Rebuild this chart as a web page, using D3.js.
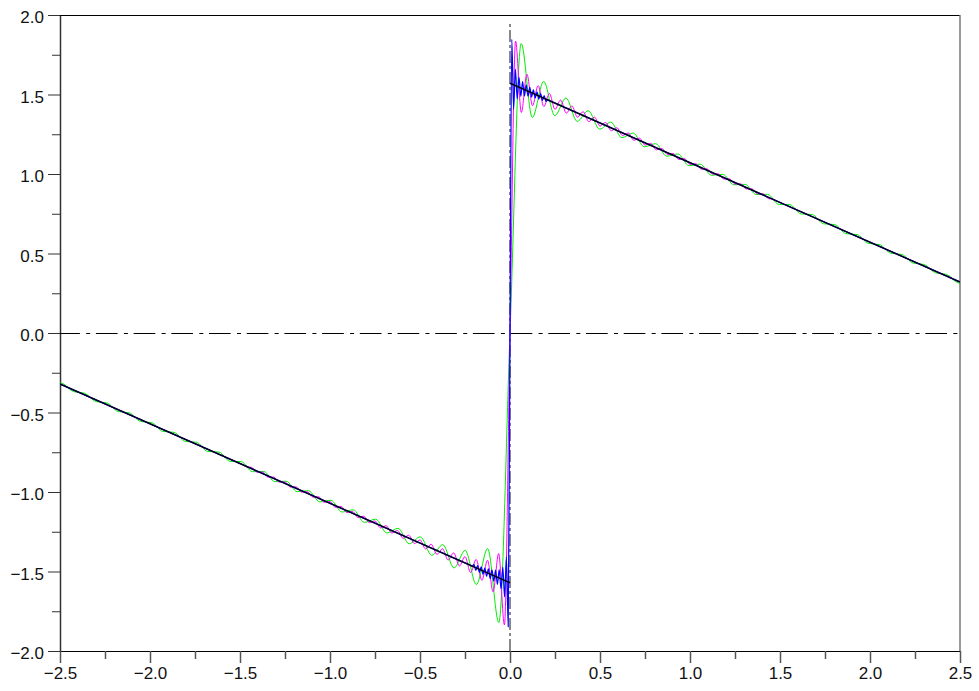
<!DOCTYPE html>
<html>
<head>
<meta charset="utf-8">
<script src="https://cdn.jsdelivr.net/npm/d3@7"></script>
<style>
  body { margin: 0; background: #fff; }
  svg { display: block; font-family: "Liberation Sans", Arial, sans-serif; }
</style>
</head>
<body>
<svg id="chart" width="979" height="691"></svg>
<script>
// tick positions
var xMajor = [-2.5, -2.0, -1.5, -1.0, -0.5, 0.0, 0.5, 1.0, 1.5, 2.0, 2.5];
var xMinor = [-2.25, -1.75, -1.25, -0.75, -0.25, 0.25, 0.75, 1.25, 1.75, 2.25];
var yMajor = [-2.0, -1.5, -1.0, -0.5, 0.0, 0.5, 1.0, 1.5, 2.0];
var yMinor = [-1.75, -1.25, -0.75, -0.25, 0.25, 0.75, 1.25, 1.75];

// green curve (fewest terms) at its peaks and troughs
var green = [
  [-2.5,-0.313],[-2.488,-0.316],[-2.426,-0.368],[-2.363,-0.379],[-2.301,-0.431],[-2.239,-0.440],
  [-2.177,-0.494],[-2.115,-0.502],[-2.053,-0.556],[-1.990,-0.564],[-1.928,-0.619],[-1.866,-0.625],
  [-1.804,-0.682],[-1.742,-0.687],[-1.679,-0.745],[-1.617,-0.749],[-1.555,-0.807],[-1.493,-0.809],
  [-1.431,-0.872],[-1.368,-0.871],[-1.306,-0.935],[-1.244,-0.932],[-1.182,-0.998],[-1.120,-0.992],
  [-1.057,-1.062],[-0.995,-1.052],[-0.933,-1.126],[-0.871,-1.112],[-0.809,-1.191],[-0.746,-1.171],
  [-0.684,-1.258],[-0.622,-1.228],[-0.560,-1.326],[-0.498,-1.282],[-0.435,-1.398],[-0.373,-1.331],
  [-0.311,-1.478],[-0.249,-1.367],[-0.187,-1.582],[-0.124,-1.356],[-0.062,-1.821],
  [0,0],
  [0.062,1.821],[0.124,1.356],[0.187,1.582],[0.249,1.367],[0.311,1.478],[0.373,1.331],
  [0.435,1.398],[0.498,1.282],[0.560,1.326],[0.622,1.228],[0.684,1.258],[0.746,1.171],
  [0.809,1.191],[0.871,1.112],[0.933,1.126],[0.995,1.052],[1.057,1.062],[1.120,0.992],
  [1.182,0.998],[1.244,0.932],[1.306,0.935],[1.368,0.871],[1.431,0.872],[1.493,0.809],
  [1.555,0.807],[1.617,0.749],[1.679,0.745],[1.742,0.687],[1.804,0.682],[1.866,0.625],
  [1.928,0.619],[1.990,0.564],[2.053,0.556],[2.115,0.502],[2.177,0.494],[2.239,0.440],
  [2.301,0.431],[2.363,0.379],[2.426,0.368],[2.488,0.316],[2.5,0.313]
];

// magenta curve (more terms)
var magenta = [
  [-2.5,-0.321],[-1.6,-0.771],[-1.485,-0.828],[-1.454,-0.844],
  [-1.438,-0.844],[-1.407,-0.875],[-1.375,-0.875],[-1.344,-0.907],[-1.313,-0.906],[-1.282,-0.938],
  [-1.250,-0.937],[-1.219,-0.970],[-1.188,-0.968],[-1.157,-1.001],[-1.125,-0.999],[-1.094,-1.033],
  [-1.063,-1.030],[-1.032,-1.065],
  [-1.000,-1.060],[-0.969,-1.097],[-0.938,-1.091],[-0.907,-1.129],[-0.875,-1.122],[-0.844,-1.161],
  [-0.813,-1.152],[-0.782,-1.193],[-0.750,-1.182],[-0.719,-1.226],[-0.688,-1.212],[-0.657,-1.258],
  [-0.625,-1.242],[-0.594,-1.291],[-0.563,-1.272],[-0.531,-1.324],[-0.500,-1.301],[-0.469,-1.358],
  [-0.438,-1.329],[-0.406,-1.392],[-0.375,-1.357],[-0.344,-1.428],[-0.313,-1.383],[-0.281,-1.465],
  [-0.250,-1.406],[-0.219,-1.506],[-0.188,-1.424],[-0.156,-1.556],[-0.125,-1.429],[-0.094,-1.628],
  [-0.063,-1.387],[-0.031,-1.836],
  [0,0],
  [0.031,1.836],[0.063,1.387],[0.094,1.628],[0.125,1.429],[0.156,1.556],[0.188,1.424],
  [0.219,1.506],[0.250,1.406],[0.281,1.465],[0.313,1.383],[0.344,1.428],[0.375,1.357],
  [0.406,1.392],[0.438,1.329],[0.469,1.358],[0.500,1.301],[0.531,1.324],[0.563,1.272],
  [0.594,1.291],[0.625,1.242],[0.657,1.258],[0.688,1.212],[0.719,1.226],[0.750,1.182],
  [0.782,1.193],[0.813,1.152],[0.844,1.161],[0.875,1.122],[0.907,1.129],[0.938,1.091],
  [0.969,1.097],[1.000,1.060],
  [1.032,1.065],[1.063,1.030],[1.094,1.033],[1.125,0.999],[1.157,1.001],[1.188,0.968],
  [1.219,0.970],[1.250,0.937],[1.282,0.938],[1.313,0.906],[1.344,0.907],[1.375,0.875],
  [1.407,0.875],[1.438,0.844],
  [1.454,0.844],[1.485,0.828],[1.6,0.771],[2.5,0.321]
];

// blue curve (most terms)
var blue = [
  [-2.5,-0.321],[-0.4,-1.371],[-0.22,-1.461],[-0.21,-1.466],
  [-0.200,-1.455],[-0.190,-1.493],[-0.180,-1.463],[-0.170,-1.505],[-0.160,-1.471],[-0.150,-1.517],
  [-0.140,-1.478],[-0.130,-1.530],[-0.120,-1.484],[-0.110,-1.545],[-0.100,-1.489],[-0.090,-1.561],
  [-0.080,-1.491],[-0.070,-1.581],[-0.060,-1.488],[-0.050,-1.609],[-0.040,-1.472],[-0.030,-1.660],
  [-0.020,-1.408],[-0.010,-1.847],
  [0,0],
  [0.010,1.847],[0.020,1.408],[0.030,1.660],[0.040,1.472],[0.050,1.609],[0.060,1.488],
  [0.070,1.581],[0.080,1.491],[0.090,1.561],[0.100,1.489],[0.110,1.545],[0.120,1.484],
  [0.130,1.530],[0.140,1.478],[0.150,1.517],[0.160,1.471],[0.170,1.505],[0.180,1.463],
  [0.190,1.493],[0.200,1.455],
  [0.21,1.466],[0.22,1.461],[0.4,1.371],[2.5,0.321]
];

// black target lines
var blackLeft = [[-2.5,-0.321],[0,-1.571]];
var blackRight = [[0,1.571],[2.5,0.321]];

// gray vertical guide at x = 0
var guideY = [-2.0, 1.96];

var svg = d3.select("#chart");
var W = 979, H = 691;
var m = { left: 60, right: 19, top: 15, bottom: 40 };

var x = d3.scaleLinear().domain([-2.5, 2.5]).range([m.left, W - m.right]);
var y = d3.scaleLinear().domain([-2, 2]).range([H - m.bottom, m.top]);

svg.append("rect").attr("width", W).attr("height", H).attr("fill", "#fff");

svg.append("defs").append("clipPath").attr("id", "plot")
  .append("rect")
  .attr("x", m.left).attr("y", m.top)
  .attr("width", W - m.left - m.right).attr("height", H - m.top - m.bottom);

var fmt = d3.format(".1f");
var FS = 17;

// x axis
var xAxis = svg.append("g")
  .attr("transform", "translate(0," + y(-2) + ")")
  .call(d3.axisBottom(x).tickValues(xMajor).tickSize(12).tickSizeOuter(0).tickFormat(fmt))
  .attr("font-size", FS)
  .attr("font-family", "Liberation Sans, Arial, sans-serif");
xAxis.select(".domain").attr("stroke", "#000").attr("stroke-width", 1);
xAxis.selectAll(".tick line").attr("stroke", "#555").attr("stroke-width", 1.5);
xAxis.selectAll(".tick text")
  .attr("y", 16).attr("dy", "0.71em")
  .attr("fill", "#111");

svg.append("g")
  .attr("transform", "translate(0," + y(-2) + ")")
  .call(d3.axisBottom(x).tickValues(xMinor).tickSize(8).tickSizeOuter(0).tickFormat(""))
  .call(function (g) { g.select(".domain").remove(); })
  .selectAll(".tick line").attr("stroke", "#555").attr("stroke-width", 1.5);

// y axis
var yAxis = svg.append("g")
  .attr("transform", "translate(" + x(-2.5) + ",0)")
  .call(d3.axisLeft(y).tickValues(yMajor).tickSize(12).tickSizeOuter(0).tickFormat(fmt))
  .attr("font-size", FS)
  .attr("font-family", "Liberation Sans, Arial, sans-serif");
yAxis.select(".domain").attr("stroke", "#333").attr("stroke-width", 1.5);
yAxis.selectAll(".tick line").attr("stroke", "#333").attr("stroke-width", 1);
yAxis.selectAll(".tick text")
  .attr("x", -16).attr("dy", "0.45em")
  .attr("fill", "#111");

svg.append("g")
  .attr("transform", "translate(" + x(-2.5) + ",0)")
  .call(d3.axisLeft(y).tickValues(yMinor).tickSize(8).tickSizeOuter(0).tickFormat(""))
  .call(function (g) { g.select(".domain").remove(); })
  .selectAll(".tick line").attr("stroke", "#333").attr("stroke-width", 1);

// top and right frame
svg.append("line")
  .attr("x1", x(-2.5)).attr("x2", x(2.5)).attr("y1", y(2) + 0.5).attr("y2", y(2) + 0.5)
  .attr("stroke", "#000").attr("stroke-width", 1);
svg.append("line")
  .attr("x1", x(2.5)).attr("x2", x(2.5)).attr("y1", y(2)).attr("y2", y(-2))
  .attr("stroke", "#777").attr("stroke-width", 1.5);

var plot = svg.append("g").attr("clip-path", "url(#plot)");

// gray dashed vertical at x = 0
plot.append("line")
  .attr("x1", x(0)).attr("x2", x(0))
  .attr("y1", y(guideY[0])).attr("y2", y(guideY[1]))
  .attr("stroke", "#888").attr("stroke-width", 2)
  .attr("stroke-dasharray", "12,3,3,3");

// dash-dot zero line
plot.append("line")
  .attr("x1", x(-2.5)).attr("x2", x(2.5))
  .attr("y1", y(0) + 0.5).attr("y2", y(0) + 0.5)
  .attr("stroke", "#000").attr("stroke-width", 1)
  .attr("stroke-dasharray", "21.7,6.3,4,5.7")
  .attr("stroke-dashoffset", 1.8);

var wavy = d3.line()
  .x(function (d) { return x(d[0]); })
  .y(function (d) { return y(d[1]); })
  .curve(d3.curveMonotoneX);

var straight = d3.line()
  .x(function (d) { return x(d[0]); })
  .y(function (d) { return y(d[1]); });

plot.append("path").attr("d", wavy(green))
  .attr("fill", "none").attr("stroke", "#00ee00").attr("stroke-width", 1);
plot.append("path").attr("d", wavy(magenta))
  .attr("fill", "none").attr("stroke", "#ff00ff").attr("stroke-width", 1);
plot.append("path").attr("d", wavy(blue))
  .attr("fill", "none").attr("stroke", "#0000ff").attr("stroke-width", 1.2);

[blackLeft, blackRight].forEach(function (seg) {
  plot.append("path").attr("d", straight(seg))
    .attr("fill", "none").attr("stroke", "#000022").attr("stroke-width", 1.5);
});
</script>
</body>
</html>
